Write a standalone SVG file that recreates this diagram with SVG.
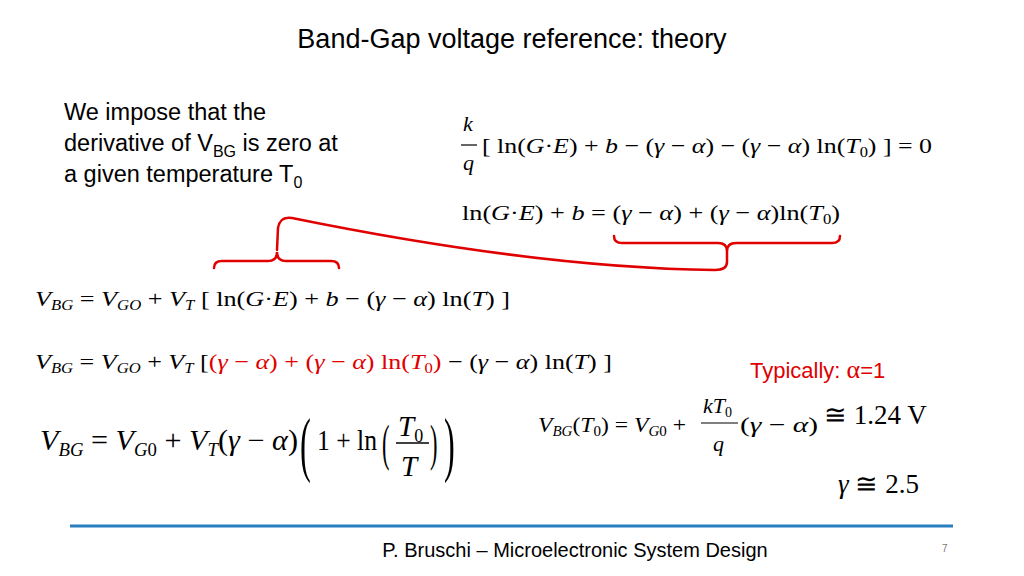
<svg xmlns="http://www.w3.org/2000/svg" width="1024" height="576" viewBox="0 0 1024 576">
<style>
.s{font-family:"Liberation Sans",Arial,sans-serif;fill:#000}
.m{font-family:"Liberation Serif","Times New Roman",serif;font-size:22px;fill:#000}
.big{font-size:29px}
.i{font-style:italic}
.r{fill:#e00000}
.br{fill:none;stroke:#e00000;stroke-width:2.5;stroke-linecap:round}
</style>
<rect width="1024" height="576" fill="#fff"/>
<text class="s" x="512" y="48" font-size="27" text-anchor="middle">Band-Gap voltage reference: theory</text>
<g id="intro" class="s" font-size="23.5">
<text x="64" y="120">We impose that the</text>
<text x="64" y="151">derivative of V<tspan font-size="16" dy="6">BG</tspan><tspan dy="-6"> is zero at</tspan></text>
<text x="64" y="182">a given temperature T<tspan font-size="16" dy="6">0</tspan></text>
</g>
<g id="eq1" class="m">
<text class="i" x="463" y="131">k</text>
<line x1="461" y1="145" x2="477" y2="145" stroke="#000" stroke-width="1.2"/>
<text class="i" x="463" y="170">q</text>
<text x="482" y="153" textLength="450" lengthAdjust="spacingAndGlyphs">[ ln(<tspan class="i">G</tspan>·<tspan class="i">E</tspan>) + <tspan class="i">b</tspan> − (<tspan class="i">γ</tspan> − <tspan class="i">α</tspan>) − (<tspan class="i">γ</tspan> − <tspan class="i">α</tspan>) ln(<tspan class="i">T</tspan><tspan font-size="14" dy="4">0</tspan><tspan dy="-4">) ] = 0</tspan></text>
</g>
<g id="eq2" class="m">
<text x="462" y="220" textLength="378" lengthAdjust="spacingAndGlyphs">ln(<tspan class="i">G</tspan>·<tspan class="i">E</tspan>) + <tspan class="i">b</tspan> = (<tspan class="i">γ</tspan> − <tspan class="i">α</tspan>) + (<tspan class="i">γ</tspan> − <tspan class="i">α</tspan>)ln(<tspan class="i">T</tspan><tspan font-size="14" dy="4">0</tspan><tspan dy="-4">)</tspan></text>
</g>
<g id="connectors">
<path class="br" d="M614,236 Q614,243 622,243 L718,243 Q727,243 727,251 Q727,243 736,243 L832,243 Q840,243 840,236"/>
<path class="br" d="M727,251 L727,262 Q727,270 715,270 C560,268 400,240 292,218 Q280,216 278,228 L277,250"/>
<path class="br" d="M214,268 Q214,261 222,261 L268,261 Q277,261 277,252 Q277,261 286,261 L331,261 Q339,261 339,268"/>
</g>
<g id="eq3" class="m">
<text x="35" y="306" textLength="475" lengthAdjust="spacingAndGlyphs"><tspan class="i">V</tspan><tspan class="i" font-size="14" dy="4">BG</tspan><tspan dy="-4"> = </tspan><tspan class="i">V</tspan><tspan class="i" font-size="14" dy="4">GO</tspan><tspan dy="-4"> + </tspan><tspan class="i">V</tspan><tspan class="i" font-size="14" dy="4">T</tspan><tspan dy="-4"> [ ln(</tspan><tspan class="i">G</tspan>·<tspan class="i">E</tspan>) + <tspan class="i">b</tspan> − (<tspan class="i">γ</tspan> − <tspan class="i">α</tspan>) ln(<tspan class="i">T</tspan>) ]</text>
</g>
<g id="eq4" class="m">
<text x="35" y="369" textLength="577" lengthAdjust="spacingAndGlyphs"><tspan class="i">V</tspan><tspan class="i" font-size="14" dy="4">BG</tspan><tspan dy="-4"> = </tspan><tspan class="i">V</tspan><tspan class="i" font-size="14" dy="4">GO</tspan><tspan dy="-4"> + </tspan><tspan class="i">V</tspan><tspan class="i" font-size="14" dy="4">T</tspan><tspan dy="-4"> [</tspan><tspan class="r">(<tspan class="i">γ</tspan> − <tspan class="i">α</tspan>) + (<tspan class="i">γ</tspan> − <tspan class="i">α</tspan>) ln(<tspan class="i">T</tspan><tspan font-size="14" dy="4">0</tspan><tspan dy="-4">)</tspan></tspan> − (<tspan class="i">γ</tspan> − <tspan class="i">α</tspan>) ln(<tspan class="i">T</tspan>) ]</text>
</g>
<g id="eq5" class="m big">
<text x="40" y="450" textLength="258" lengthAdjust="spacingAndGlyphs"><tspan class="i">V</tspan><tspan class="i" font-size="18" dy="6">BG</tspan><tspan dy="-6"> = </tspan><tspan class="i">V</tspan><tspan class="i" font-size="18" dy="6">G</tspan><tspan font-size="18">0</tspan><tspan dy="-6"> + </tspan><tspan class="i">V</tspan><tspan class="i" font-size="18" dy="6">T</tspan><tspan dy="-6">(</tspan><tspan class="i">γ</tspan> − <tspan class="i">α</tspan>)</text>
<text x="300" y="468" font-size="72" transform="translate(300 0) scale(0.45 1) translate(-300 0)">(</text>
<text x="317" y="450" textLength="60" lengthAdjust="spacingAndGlyphs">1 + ln</text>
<text x="382" y="460" font-size="50" transform="translate(382 0) scale(0.45 1) translate(-382 0)">(</text>
<text class="i" x="398" y="436">T<tspan font-size="18" font-style="normal" dy="6">0</tspan></text>
<line x1="396" y1="443" x2="429" y2="443" stroke="#000" stroke-width="1.3"/>
<text class="i" x="401" y="476">T</text>
<text x="430" y="460" font-size="50" transform="translate(430 0) scale(0.45 1) translate(-430 0)">)</text>
<text x="444" y="468" font-size="72" transform="translate(444 0) scale(0.45 1) translate(-444 0)">)</text>
</g>
<g id="typically">
<text class="s r" x="750" y="378" font-size="22">Typically: <tspan font-family="Liberation Serif,serif" font-size="26">α</tspan>=1</text>
</g>
<g id="eq6" class="m">
<text x="538" y="432" font-size="22" textLength="148" lengthAdjust="spacingAndGlyphs"><tspan class="i">V</tspan><tspan class="i" font-size="14" dy="4">BG</tspan><tspan dy="-4">(</tspan><tspan class="i">T</tspan><tspan font-size="14" dy="4">0</tspan><tspan dy="-4">) = </tspan><tspan class="i">V</tspan><tspan class="i" font-size="14" dy="4">G</tspan><tspan font-size="14">0</tspan><tspan dy="-4"> +</tspan></text>
<text class="i" x="703" y="413" font-size="22">kT<tspan font-style="normal" font-size="14" dy="4">0</tspan></text>
<line x1="701" y1="423" x2="738" y2="423" stroke="#000" stroke-width="1.2"/>
<text class="i" x="713" y="451" font-size="22">q</text>
<text x="740" y="432" font-size="22" textLength="78" lengthAdjust="spacingAndGlyphs">(<tspan class="i">γ</tspan> − <tspan class="i">α</tspan>)</text>
<text x="824" y="424" font-size="27">≅ 1.24 V</text>
<text x="838" y="493" font-size="27"><tspan class="i">γ</tspan> ≅ 2.5</text>
</g>
<line x1="70" y1="526" x2="953" y2="526" stroke="#2a7fc0" stroke-width="3"/>
<text class="s" x="575" y="557" font-size="20" text-anchor="middle">P. Bruschi – Microelectronic System Design</text>
<text x="942" y="552" font-size="10" style="fill:#777;font-family:'Liberation Sans',sans-serif">7</text>
</svg>
